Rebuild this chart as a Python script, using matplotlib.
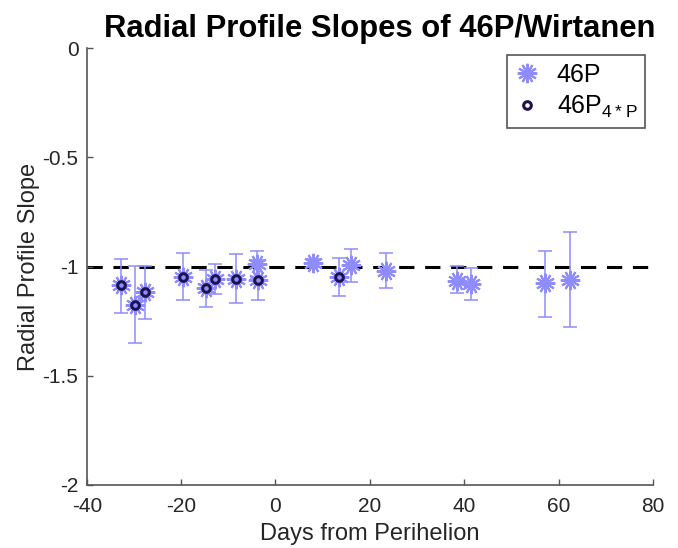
import matplotlib
matplotlib.use('Agg')
import matplotlib.pyplot as plt
import numpy as np

plt.rcParams['font.family'] = ['Liberation Sans', 'DejaVu Sans']
plt.rcParams['axes.unicode_minus'] = False

# 46P slopes (days from perihelion, slope, lower/upper error)
days = [-32.8, -29.7, -27.7, -19.7, -14.8, -12.9, -8.3, -4.0, -3.7,
        8.0, 13.5, 16.1, 23.4, 38.4, 41.4, 57.1, 62.4]
slope = [-1.085, -1.176, -1.115, -1.047, -1.100, -1.057, -1.057, -0.990, -1.062,
         -0.983, -1.047, -0.993, -1.019, -1.065, -1.080, -1.074, -1.062]
err_lo = [0.126, 0.173, 0.127, 0.106, 0.087, 0.069, 0.109, 0.06, 0.091,
          0.02, 0.088, 0.077, 0.081, 0.058, 0.073, 0.158, 0.216]
err_hi = [0.118, 0.180, 0.119, 0.107, 0.084, 0.069, 0.113, 0.062, 0.09,
          0.02, 0.085, 0.072, 0.079, 0.067, 0.075, 0.146, 0.219]

# 4*P subset
days_4p = [-32.8, -29.7, -27.7, -19.7, -14.8, -12.9, -8.3, -3.7, 13.5]
slope_4p = [-1.085, -1.176, -1.115, -1.047, -1.100, -1.057, -1.057, -1.062, -1.047]

star_col = '#8f8cff'
circ_col = '#1c1450'
ax_col = '#555555'

fig = plt.figure(figsize=(6.78, 5.48), dpi=100)
ax = fig.add_axes([0.128, 0.115, 0.835, 0.797])

ax.errorbar(days, slope, yerr=[err_lo, err_hi], fmt='none', ecolor=star_col,
            elinewidth=1.3, capsize=5, capthick=1.3, alpha=0.85, zorder=2)
ax.plot(days, slope, linestyle='none', marker=(12, 2, 0), markersize=14,
        markeredgewidth=1.5, color=star_col, label='46P', zorder=3)
ax.plot(days_4p, slope_4p, linestyle='none', marker='o', markersize=5.5,
        markerfacecolor='none', markeredgecolor=circ_col, markeredgewidth=2.2,
        label=r'46P$_{\mathregular{4*P}}$', zorder=4)
ax.axhline(-1, color='black', linestyle=(0, (5, 3.5)), linewidth=2.2, zorder=1)

ax.set_xlim(-40, 80)
ax.set_ylim(-2, 0)
ax.set_xticks([-40, -20, 0, 20, 40, 60, 80])
ax.set_yticks([-2, -1.5, -1, -0.5, 0])
ax.set_yticklabels(['-2', '-1.5', '-1', '-0.5', '0'])

for s in ['top', 'right']:
    ax.spines[s].set_visible(False)
for s in ['left', 'bottom']:
    ax.spines[s].set_color(ax_col)
    ax.spines[s].set_linewidth(1.2)
ax.tick_params(direction='in', length=4, width=1, color=ax_col,
               labelcolor='#262626', labelsize=15)
ax.tick_params(axis='x', pad=9)
ax.tick_params(axis='y', pad=6)

ax.set_xlabel('Days from Perihelion', fontsize=17, color='#262626', labelpad=5)
ax.set_ylabel('Radial Profile Slope', fontsize=17, color='#262626', labelpad=2)
ax.set_title('Radial Profile Slopes of 46P/Wirtanen', fontsize=22.3,
             fontweight='bold', pad=8, x=0.518)

leg = ax.legend(loc='upper right', fontsize=18, fancybox=False,
                edgecolor='#555555', framealpha=1, borderpad=0.3,
                handlelength=1.0, handletextpad=0.7, labelspacing=0.3,
                borderaxespad=0, bbox_to_anchor=(0.986, 0.984))
leg.get_frame().set_linewidth(1.2)

fig.savefig('out.png', dpi=100)
